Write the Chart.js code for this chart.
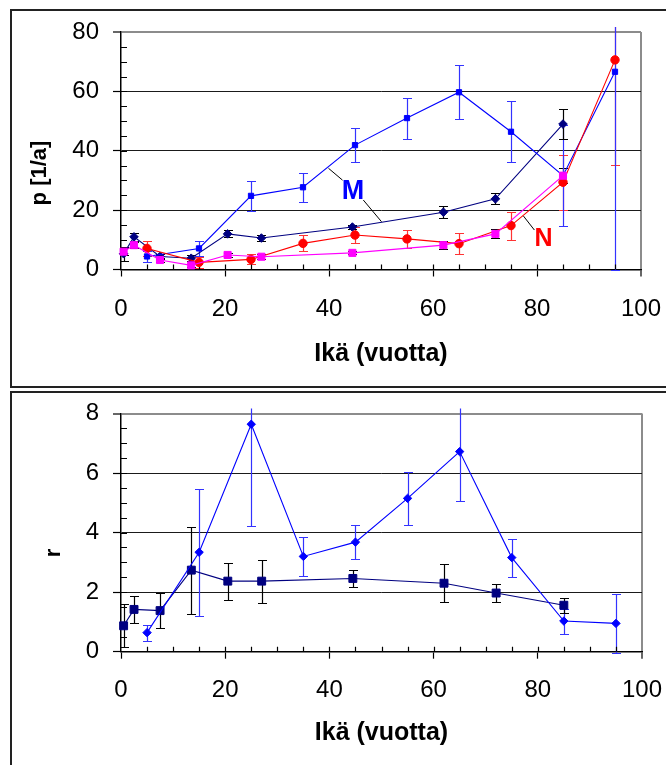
<!DOCTYPE html>
<html>
<head>
<meta charset="utf-8">
<script src="https://cdn.jsdelivr.net/npm/chart.js@4.4.0/dist/chart.umd.min.js"></script>
<style>
  html, body { margin: 0; padding: 0; background: #fff; width: 666px; height: 765px; overflow: hidden; }
  .frame { position: absolute; box-sizing: border-box; border: 2px solid #222; background: #fff; }
  #frameTop { left: 10px; top: 9px; width: 720px; height: 379px; }
  #frameBottom { left: 10px; top: 391px; width: 720px; height: 420px; }
  canvas { position: absolute; left: 0; }
  #chartP { top: 0; }
  #chartR { top: 388px; }
</style>
</head>
<body>
<div class="frame" id="frameTop"></div>
<div class="frame" id="frameBottom"></div>
<canvas id="chartP" width="666" height="388" style="width:666px;height:388px"></canvas>
<canvas id="chartR" width="666" height="377" style="width:666px;height:377px"></canvas>
<script>
// Age of each group (years): five-year classes and the other grouping
const ageFive  = [5, 15, 25, 35, 45, 55, 65, 75, 85, 95];
const ageGroup = [0.5, 2.5, 7.5, 13.5, 20.5, 27, 44.5, 62, 72, 85];

// p [1/a], men, five-year classes
const pMFive     = [4.4, 7.1, 24.8, 27.7, 41.9, 51.0, 59.7, 46.4, 31.6, 66.6];
const pMFiveErr  = [1.8, 2.6, 5.0, 4.9, 5.8, 6.9, 9.1, 10.2, 17.1, 66.6];
// p [1/a], men, grouped
const pMGroup    = [5.3, 11.0, 4.4, 3.8, 12.0, 10.6, 14.3, 19.3, 23.8, 49.0];
const pMGroupErr = [2.4, 1.4, 0.8, 1.0, 1.2, 1.1, 0.8, 2.0, 1.8, 5.0];
// p [1/a], women, five-year classes
const pNFive     = [7.1, 2.4, 3.4, 8.8, 11.6, 10.3, 8.7, 14.8, 29.4, 70.6];
const pNFiveErr  = [2.6, 1.8, 1.7, 2.7, 2.6, 3.0, 3.5, 4.7, 9.2, 35.3];
// p [1/a], women, grouped
const pNGroup    = [6.0, 8.2, 3.2, 1.4, 4.9, 4.3, 5.6, 8.2, 12.0, 31.6];
const pNGroupErr = [1.2, 1.0, 0.6, 0.5, 0.6, 0.8, 0.5, 1.4, 1.5, 2.6];

// r = ratio men / women
const rFive     = [0.64, 3.34, 7.64, 3.20, 3.68, 5.15, 6.72, 3.16, 1.03, 0.95];
const rFiveErr  = [0.27, 2.14, 3.43, 0.66, 0.56, 0.90, 1.65, 0.64, 0.42, 0.98];
const rGroup    = [0.87, 1.42, 1.38, 2.74, 2.37, 2.37, 2.46, 2.30, 1.97, 1.56];
const rGroupErr = [0.72, 0.44, 0.60, 1.46, 0.62, 0.72, 0.28, 0.63, 0.30, 0.25];

// Axis ticks
const xTicks = [0, 20, 40, 60, 80, 100];
const pTicks = [0, 20, 40, 60, 80];
const rTicks = [0, 2, 4, 6, 8];

const xyPairs = (xs, ys) => xs.map((x, i) => ({ x: x, y: ys[i] }));

const FONT = "'Liberation Sans', Arial, sans-serif";
Chart.defaults.font.family = FONT;
Chart.defaults.color = '#000';

// Vertical error bars with end caps, drawn under the markers
const errorBars = {
  id: 'errorBars',
  beforeDatasetsDraw(chart) {
    const { ctx, chartArea: a, scales: { x, y } } = chart;
    ctx.save();
    ctx.beginPath();
    ctx.rect(a.left - 12, a.top - 5, a.right - a.left + 24, a.bottom - a.top + 8);
    ctx.clip();
    chart.data.datasets.forEach(ds => {
      if (!ds.errors) return;
      ctx.strokeStyle = ds.errorColor;
      ctx.lineWidth = 1.2;
      ds.data.forEach((pt, i) => {
        const e = ds.errors[i];
        const px = Math.round(x.getPixelForValue(pt.x)) + 0.5;
        const hi = Math.round(y.getPixelForValue(pt.y + e)) + 0.5;
        const lo = Math.round(y.getPixelForValue(pt.y - e)) + 0.5;
        const cap = 4.5;
        ctx.beginPath();
        ctx.moveTo(px, hi); ctx.lineTo(px, lo);
        ctx.moveTo(px - cap, hi); ctx.lineTo(px + cap, hi);
        ctx.moveTo(px - cap, lo); ctx.lineTo(px + cap, lo);
        ctx.stroke();
      });
    });
    ctx.restore();
  }
};

// Small inward tick marks between the labelled ticks
const innerTicks = {
  id: 'innerTicks',
  beforeDatasetsDraw(chart, args, opts) {
    const { ctx, chartArea: a, scales: { x, y } } = chart;
    ctx.save();
    ctx.strokeStyle = '#000';
    ctx.lineWidth = 1.2;
    ctx.beginPath();
    for (let k = 1; x.min + k * opts.xStep < x.max - 1e-9; k++) {
      const px = Math.round(x.getPixelForValue(x.min + k * opts.xStep)) + 0.5;
      ctx.moveTo(px, a.bottom); ctx.lineTo(px, a.bottom - 5);
    }
    for (let k = 1; y.min + k * opts.yStep < y.max - 1e-9; k++) {
      const py = Math.round(y.getPixelForValue(y.min + k * opts.yStep)) + 0.5;
      ctx.moveTo(a.left, py); ctx.lineTo(a.left + 6, py);
    }
    ctx.stroke();
    ctx.restore();
  }
};

// Vertical axis title and the M / N labels with their leader lines
const notes = {
  id: 'notes',
  afterDatasetsDraw(chart, args, opts) {
    const { ctx, scales: { x, y } } = chart;
    ctx.save();
    if (opts.yTitle) {
      const t = opts.yTitle;
      ctx.translate(t.cx, t.cy);
      ctx.rotate(-Math.PI / 2);
      ctx.font = 'bold ' + t.size + 'px ' + FONT;
      ctx.fillStyle = '#000';
      ctx.textAlign = 'center';
      ctx.textBaseline = 'middle';
      ctx.fillText(t.text, 0, 0);
      ctx.setTransform(1, 0, 0, 1, 0, 0);
    }
    (opts.leaders || []).forEach(l => {
      ctx.strokeStyle = '#000';
      ctx.lineWidth = 1;
      ctx.beginPath();
      ctx.moveTo(x.getPixelForValue(l[0]), y.getPixelForValue(l[1]));
      ctx.lineTo(x.getPixelForValue(l[2]), y.getPixelForValue(l[3]));
      ctx.stroke();
    });
    (opts.labels || []).forEach(l => {
      ctx.font = 'bold ' + l.size + 'px ' + FONT;
      ctx.fillStyle = l.color;
      ctx.textAlign = 'center';
      ctx.textBaseline = 'middle';
      ctx.fillText(l.text, x.getPixelForValue(l.x), y.getPixelForValue(l.y));
    });
    ctx.restore();
  }
};

function xScale(axisHeight, labelPad, titlePad) {
  return {
    type: 'linear', min: 0, max: 100,
    afterBuildTicks: s => { s.ticks = xTicks.map(v => ({ value: v })); },
    ticks: { padding: labelPad, font: { size: 24 }, color: '#000', maxRotation: 0 },
    grid: {
      drawOnChartArea: true,
      color: c => (c.tick && c.tick.value === 100) ? '#8c8c8c' : 'rgba(0,0,0,0)',
      lineWidth: c => (c.tick && c.tick.value === 100) ? 2 : 1,
      tickColor: '#000', tickWidth: 1.2, tickLength: 7
    },
    border: { display: true, color: '#000', width: 1.5 },
    title: { display: true, text: 'Ikä (vuotta)', font: { size: 25, weight: 'bold' }, color: '#000', padding: { top: 0, bottom: titlePad } },
    afterFit: s => {
      s.height = axisHeight;
      s.paddingLeft = 0; s.paddingRight = 0;
    }
  };
}

function yScale(max, ticks) {
  return {
    type: 'linear', min: 0, max: max,
    afterBuildTicks: s => { s.ticks = ticks.map(v => ({ value: v })); },
    ticks: { padding: 14, font: { size: 24 }, color: '#000' },
    grid: {
      color: c => (c.tick && c.tick.value === max) ? '#8c8c8c' : '#1a1a1a',
      lineWidth: c => (c.tick && c.tick.value === max) ? 2 : 1,
      tickColor: '#000', tickWidth: 1.2, tickLength: 8
    },
    border: { display: true, color: '#000', width: 1.5 },
    title: { display: false },
    afterFit: s => {
      s.width = 111;
      s.paddingTop = 0; s.paddingBottom = 0;
    }
  };
}

function series(label, xs, ys, errs, color, errColor, style, radius) {
  return {
    label: label,
    data: xyPairs(xs, ys),
    errors: errs,
    errorColor: errColor,
    borderColor: color,
    backgroundColor: color,
    borderWidth: 1.1,
    pointStyle: style,
    pointRadius: radius,
    pointBorderWidth: 1,
    pointBorderColor: color,
    pointBackgroundColor: color,
    tension: 0,
    clip: false
  };
}

const common = {
  responsive: false,
  animation: false,
  devicePixelRatio: 1,
  events: []
};

new Chart(document.getElementById('chartP'), {
  type: 'line',
  data: {
    datasets: [
      series('N (ryhmät)', ageGroup, pNGroup, pNGroupErr, '#ff00ff', '#000000', 'rect', 5),
      series('N', ageFive, pNFive, pNFiveErr, '#ff0000', '#ff3333', 'circle', 4.2),
      series('M', ageFive, pMFive, pMFiveErr, '#0000ff', '#3333ff', 'rect', 3.7),
      series('M (ryhmät)', ageGroup, pMGroup, pMGroupErr, '#000080', '#000000', 'rectRot', 4.3)
    ]
  },
  options: Object.assign({}, common, {
    layout: { padding: { left: 10, right: 25, top: 32, bottom: 0 } },
    scales: { x: xScale(118.5, 18, 19), y: yScale(80, pTicks) },
    plugins: {
      legend: { display: false },
      tooltip: { enabled: false },
      innerTicks: { xStep: 5, yStep: 5 },
      notes: {
        yTitle: { text: 'p [1/a]', cx: 40, cy: 173, size: 22 },
        leaders: [[39.9, 34.1, 42.6, 30.1], [46.6, 23.4, 50.1, 16.1], [77.4, 18.0, 79.5, 13.3]],
        labels: [
          { text: 'M', x: 44.6, y: 26.1, color: '#0000ff', size: 27 },
          { text: 'N', x: 81.25, y: 10.3, color: '#ff0000', size: 25 }
        ]
      }
    }
  }),
  plugins: [errorBars, innerTicks, notes]
});

new Chart(document.getElementById('chartR'), {
  type: 'line',
  data: {
    datasets: [
      series('r', ageFive, rFive, rFiveErr, '#0000ff', '#3333ff', 'rectRot', 4.2),
      series('r (ryhmät)', ageGroup, rGroup, rGroupErr, '#000080', '#000000', 'rect', 5.6)
    ]
  },
  options: Object.assign({}, common, {
    layout: { padding: { left: 10, right: 24, top: 25.5, bottom: 0 } },
    scales: { x: xScale(113.3, 17, 17), y: yScale(8, rTicks) },
    plugins: {
      legend: { display: false },
      tooltip: { enabled: false },
      innerTicks: { xStep: 5, yStep: 0.5 },
      notes: {
        yTitle: { text: 'r', cx: 54, cy: 165, size: 22 }
      }
    }
  }),
  plugins: [errorBars, innerTicks, notes]
});
</script>
</body>
</html>
